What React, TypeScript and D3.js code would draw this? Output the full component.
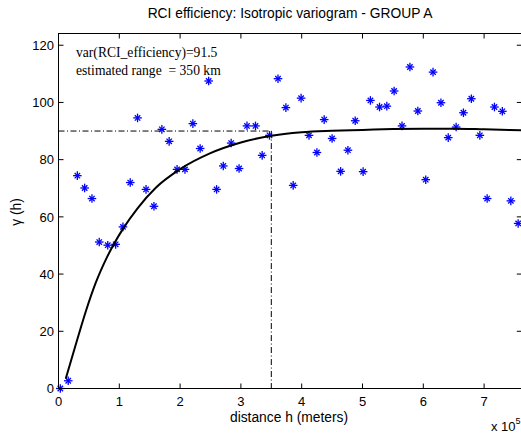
import React from "react";
import * as d3 from "d3";

// lag distance in units of 1e5 meters
const lagH = [0.03, 0.16, 0.31, 0.43, 0.55, 0.67, 0.81, 0.94, 1.06, 1.18, 1.30, 1.44, 1.57, 1.70, 1.82, 1.95, 2.08, 2.21, 2.33, 2.47, 2.60, 2.71, 2.84, 2.97, 3.10, 3.24, 3.35, 3.47, 3.61, 3.74, 3.86, 3.99, 4.12, 4.25, 4.37, 4.50, 4.64, 4.76, 4.88, 5.01, 5.13, 5.28, 5.40, 5.52, 5.65, 5.78, 5.91, 6.04, 6.16, 6.29, 6.41, 6.54, 6.66, 6.79, 6.93, 7.05, 7.17, 7.30, 7.44, 7.56];
const gammaVals = [0, 2.7, 74.4, 70.1, 66.4, 51.2, 50.1, 50.4, 56.5, 72.0, 94.6, 69.6, 63.7, 90.6, 86.4, 76.6, 76.6, 92.6, 83.9, 107.5, 69.6, 77.8, 85.8, 76.9, 91.8, 91.8, 81.5, 88.5, 108.3, 98.2, 71.0, 101.5, 88.5, 82.5, 94.0, 87.4, 75.9, 83.3, 93.6, 75.8, 100.7, 98.4, 98.7, 104.0, 91.8, 112.4, 97.0, 73.0, 110.6, 99.9, 87.7, 91.4, 96.4, 101.3, 88.5, 66.4, 98.4, 96.9, 65.6, 57.7];

// fitted model curve
const modelH = [0.12, 0.3, 0.45, 0.61, 0.8, 1.06, 1.3, 1.6, 2.0, 2.49, 3.0, 3.48, 4.0, 4.5, 5.0, 5.5, 6.0, 6.5, 7.0, 7.62];
const modelG = [3.5, 16.5, 27.0, 36.8, 46.0, 55.8, 63.0, 70.2, 76.7, 82.2, 86.0, 88.3, 89.6, 90.1, 90.4, 90.7, 90.8, 90.8, 90.6, 90.3];

const xTicks = [0, 1, 2, 3, 4, 5, 6, 7];
const yTicks = [0, 20, 40, 60, 80, 100, 120];
const sillValue = 90;
const rangeValue = 3.5;

const titleText = "RCI efficiency: Isotropic variogram - GROUP A";
const xLabel = "distance h (meters)";
const yLabel = "γ (h)";
const noteLines = ["var(RCI_efficiency)=91.5", "estimated range  = 350 km"];

const W = 521;
const H = 434;
const L = 58.5;
const T = 33.5;
const R = 521.8;
const B = 388.5;

export default function App() {
  const x = d3.scaleLinear().domain([0, 7.62]).range([L, R]);
  const y = d3.scaleLinear().domain([0, 124.1]).range([B, T]);
  const line = d3
    .line<number>()
    .x((_, i) => x(modelH[i]))
    .y((d) => y(d))
    .curve(d3.curveMonotoneX);
  const sans = "'Liberation Sans', Arial, Helvetica, sans-serif";
  const serif = "'Liberation Serif', 'Times New Roman', serif";
  const tick = 5;
  const dash = "6,2.5,1,2.5";
  return (
    <svg
      width={W}
      height={H}
      style={{ position: "absolute", left: 0, top: 0, background: "#fff" }}
    >
      <rect x={0} y={0} width={W} height={H} fill="#fff" />
      {/* reference lines */}
      <line
        x1={L}
        x2={x(rangeValue)}
        y1={y(sillValue)}
        y2={y(sillValue)}
        stroke="#000"
        strokeWidth={1}
        strokeDasharray={dash}
      />
      <line
        x1={x(rangeValue)}
        x2={x(rangeValue)}
        y1={y(sillValue)}
        y2={B}
        stroke="#000"
        strokeWidth={1}
        strokeDasharray={dash}
      />
      {/* points */}
      <g stroke="#0000ff" strokeWidth={1.3} fill="none">
        {lagH.map((h, i) => {
          const cx = x(h);
          const cy = y(gammaVals[i]);
          const a = 4.3;
          const b = 2.7;
          return (
            <g key={i}>
              <line x1={cx - a} x2={cx + a} y1={cy} y2={cy} />
              <line x1={cx} x2={cx} y1={cy - a} y2={cy + a} />
              <line x1={cx - b} x2={cx + b} y1={cy - b} y2={cy + b} />
              <line x1={cx - b} x2={cx + b} y1={cy + b} y2={cy - b} />
            </g>
          );
        })}
      </g>
      {/* model curve */}
      <path d={line(modelG) || ""} fill="none" stroke="#000" strokeWidth={2} />
      {/* axes box */}
      <rect x={L} y={T} width={R - L} height={B - T} fill="none" stroke="#000" strokeWidth={1} />
      <g stroke="#000" strokeWidth={1}>
        {xTicks.map((t) => (
          <g key={"xt" + t}>
            <line x1={x(t)} x2={x(t)} y1={B} y2={B - tick} />
            <line x1={x(t)} x2={x(t)} y1={T} y2={T + tick} />
          </g>
        ))}
        {yTicks.map((t) => (
          <g key={"yt" + t}>
            <line x1={L} x2={L + tick} y1={y(t)} y2={y(t)} />
            <line x1={R} x2={R - tick} y1={y(t)} y2={y(t)} />
          </g>
        ))}
      </g>
      <g fontFamily={sans} fontSize={13} fill="#000">
        {xTicks.map((t) => (
          <text key={"xl" + t} x={x(t)} y={405.5} textAnchor="middle">
            {t}
          </text>
        ))}
        {yTicks.map((t) => (
          <text key={"yl" + t} x={54} y={y(t) + 4.7} textAnchor="end">
            {t}
          </text>
        ))}
      </g>
      <text x={290} y={18} textAnchor="middle" fontFamily={sans} fontSize={13.8}>
        {titleText}
      </text>
      <text x={289} y={422} textAnchor="middle" fontFamily={sans} fontSize={13.8}>
        {xLabel}
      </text>
      <text
        transform={`translate(21,212) rotate(-90)`}
        textAnchor="middle"
        fontFamily={sans}
        fontSize={13.8}
      >
        {yLabel}
      </text>
      <text x={491} y={431} fontFamily={sans} fontSize={13}>
        x 10
        <tspan dy={-7} fontSize={9}>5</tspan>
      </text>
      <g fontFamily={serif} fontSize={13.6} fill="#000">
        {noteLines.map((s, i) => (
          <text key={i} x={76} y={57 + i * 18} xmlSpace="preserve" style={{ whiteSpace: "pre" }}>
            {s}
          </text>
        ))}
      </g>
    </svg>
  );
}
